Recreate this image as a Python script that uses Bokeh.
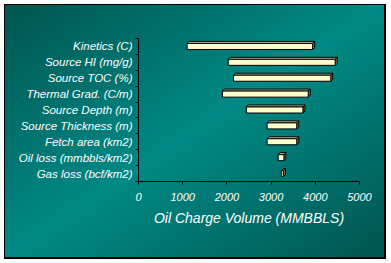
from bokeh.plotting import figure
from bokeh.models import Range1d, FixedTicker, InlineStyleSheet, ColumnDataSource
from bokeh.embed import file_html
from bokeh.resources import INLINE

# ---- data ----
categories = ["Kinetics (C)", "Source HI (mg/g)", "Source TOC (%)", "Thermal Grad. (C/m)",
              "Source Depth (m)", "Source Thickness (m)", "Fetch area (km2)",
              "Oil loss (mmbbls/km2)", "Gas loss (bcf/km2)"]
low_values = [1100, 2030, 2150, 1900, 2440, 2910, 2910, 3160, 3230]
high_values = [3940, 4450, 4350, 3840, 3720, 3580, 3580, 3290, 3275]
x_ticks = [0, 1000, 2000, 3000, 4000, 5000]

# ---- geometry / style ----
W, H = 391, 263
LEFT, RIGHT, TOP, BOTTOM = 138, 32, 38, 82
n = len(categories)
XMAX = 5000
frame_w = W - LEFT - RIGHT
frame_h = H - TOP - BOTTOM
BAR_H = 0.38
DEPTH_PX = 2.0
dx = DEPTH_PX * XMAX / frame_w
dy = DEPTH_PX * n / frame_h

FONT = "Liberation Sans"

ypos = [n - 1 - i for i in range(n)]

front = ColumnDataSource(dict(y=ypos, left=low_values, right=high_values))

top_xs, top_ys, side_xs, side_ys = [], [], [], []
for y, lo, hi in zip(ypos, low_values, high_values):
    t = y + BAR_H / 2
    b = y - BAR_H / 2
    top_xs.append([lo, lo + dx, hi + dx, hi])
    top_ys.append([t, t + dy, t + dy, t])
    side_xs.append([hi, hi, hi + dx, hi + dx])
    side_ys.append([b, t, t + dy, b + dy])

p = figure(width=W, height=H, output_backend="svg", toolbar_location=None,
           x_range=Range1d(0, XMAX), y_range=Range1d(-0.5, n - 0.5),
           min_border_left=LEFT, min_border_right=RIGHT,
           min_border_top=TOP, min_border_bottom=BOTTOM)

p.border_fill_color = None
p.background_fill_color = None
p.outline_line_color = None
p.xgrid.visible = False
p.ygrid.visible = False

p.stylesheets = [InlineStyleSheet(css="""
:host {
  background:
    linear-gradient(to bottom right, #00554f 0%, #008985 50%, #00554f 100%) 5px 5px / 379px 252px no-repeat,
    linear-gradient(#000, #000) 4px 4px / 382px 255px no-repeat,
    #ffffff;
}
""")]

p.patches(top_xs, top_ys, fill_color="#c4c4a2", line_color="black", line_width=1)
p.patches(side_xs, side_ys, fill_color="#8c8264", line_color="black", line_width=1)
p.hbar(y="y", left="left", right="right", height=BAR_H, source=front,
       fill_color="#ffffcc", line_color="black", line_width=1)

# x axis
xa = p.xaxis[0]
xa.ticker = FixedTicker(ticks=x_ticks)
xa.axis_line_color = "black"
xa.major_tick_line_color = "black"
xa.major_tick_out = 3
xa.major_tick_in = 0
xa.minor_tick_line_color = None
xa.major_label_text_color = "white"
xa.major_label_text_font = FONT
xa.major_label_text_font_style = "italic"
xa.major_label_text_font_size = "11px"
xa.major_label_standoff = 8
xa.axis_label = "Oil Charge Volume (MMBBLS)"
xa.axis_label_text_color = "white"
xa.axis_label_text_font = FONT
xa.axis_label_text_font_style = "italic"
xa.axis_label_text_font_size = "14px"
xa.axis_label_standoff = 6

# y axis
ya = p.yaxis[0]
ya.ticker = FixedTicker(ticks=ypos, minor_ticks=[k - 0.5 for k in range(n + 1)])
ya.major_label_overrides = {y: c for y, c in zip(ypos, categories)}
ya.axis_line_color = "black"
ya.major_tick_line_color = None
ya.major_tick_out = 0
ya.major_tick_in = 0
ya.minor_tick_line_color = "black"
ya.minor_tick_out = 3
ya.minor_tick_in = 0
ya.major_label_text_color = "white"
ya.major_label_text_font = FONT
ya.major_label_text_font_style = "italic"
ya.major_label_text_font_size = "11.5px"
ya.major_label_standoff = 3

open("out.html", "w").write(file_html(p, INLINE))
